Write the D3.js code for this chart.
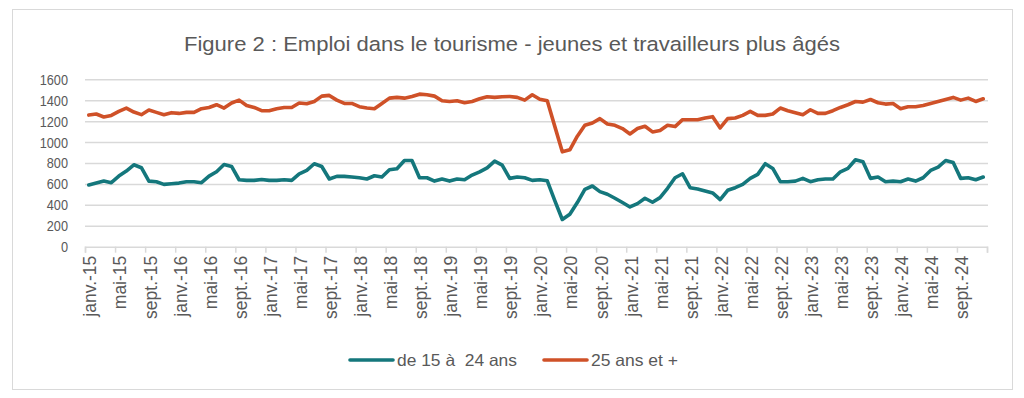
<!DOCTYPE html>
<html><head><meta charset="utf-8">
<script src="https://cdn.jsdelivr.net/npm/d3@7"></script>
<style>body{margin:0;background:#fff}svg{display:block}</style>
</head><body><svg id="c" width="1024" height="398"></svg>
<script>
const years = [2015,2016,2017,2018,2019,2020,2021,2022,2023,2024];
const monthAbbr = ["janv.","févr.","mars","avr.","mai","juin","juil.","août","sept.","oct.","nov.","déc."];
const categories = years.flatMap(yr => monthAbbr.map(m => m + "-" + String(yr).slice(2)));

const youth = [
 590,608,627,612,675,723,783,755,627,621,596,602,
 608,621,621,612,675,716,786,767,640,634,634,643,
 634,634,640,634,697,729,793,767,647,672,672,666,
 659,647,678,666,735,745,824,824,659,659,627,647,
 627,647,640,685,716,754,818,780,653,666,659,634,
 640,630,440,260,311,422,548,580,526,501,463,422,
 380,412,463,425,469,558,659,697,564,552,533,514,
 450,539,564,596,653,691,793,748,621,621,627,653,
 621,640,647,647,716,748,831,812,653,666,621,627,
 621,647,627,659,729,761,824,805,653,659,640,666];
const older = [
 1258,1268,1240,1255,1293,1325,1287,1262,1306,1284,1262,1281,
 1274,1284,1284,1319,1331,1357,1325,1373,1401,1350,1331,1300,
 1300,1319,1331,1331,1373,1366,1388,1439,1446,1401,1369,1369,
 1338,1325,1319,1369,1420,1427,1420,1436,1458,1452,1439,1395,
 1388,1395,1376,1388,1414,1433,1427,1433,1436,1427,1401,1452,
 1410,1395,1150,907,926,1056,1160,1182,1224,1173,1160,1129,
 1078,1129,1151,1097,1110,1160,1148,1214,1214,1214,1230,1243,
 1135,1224,1230,1255,1293,1255,1255,1268,1325,1300,1281,1262,
 1309,1274,1274,1300,1331,1357,1388,1382,1407,1376,1363,1369,
 1319,1338,1338,1350,1369,1388,1407,1427,1401,1420,1388,1414];
const yTicks = [0,200,400,600,800,1000,1200,1400,1600];
const seriesNames = ["de 15 à  24 ans","25 ans et +"];
const colors = ["#14777c","#cf5128"];

(function(){
const svg = d3.select("#c");
const grey = "#595959";
const pL = 85, pR = 987, pT = 79.3, pB = 246.7;

svg.append("rect").attr("x",12.5).attr("y",9.5).attr("width",1000).attr("height",380)
  .attr("fill","#fff").attr("stroke","#d9d9d9").attr("stroke-width",1);

svg.append("text").attr("x",512).attr("y",51).attr("text-anchor","middle")
  .attr("font-family","'Liberation Sans',Arial,sans-serif")
  .attr("font-size",20.5).attr("fill",grey)
  .attr("textLength",656).attr("lengthAdjust","spacingAndGlyphs")
  .text("Figure 2 : Emploi dans le tourisme - jeunes et travailleurs plus âgés");

const x = d3.scaleBand().domain(d3.range(categories.length)).range([pL,pR]).padding(0);
const xl = d3.scaleLinear().domain([0,categories.length]).range([pL,pR]);
const y = d3.scaleLinear().domain([0,1600]).range([pB,pT]);

svg.append("g").attr("transform",`translate(${pL},0)`)
  .call(d3.axisLeft(y).tickValues(yTicks.filter(v=>v>0)).tickSize(-(pR-pL+1)).tickFormat(""))
  .call(g=>g.select(".domain").remove())
  .call(g=>g.selectAll("line").attr("stroke","#d9d9d9").attr("stroke-width",1.5));

const ya = svg.append("g").attr("transform",`translate(${pL},0)`)
  .call(d3.axisLeft(y).tickValues(yTicks).tickSize(0).tickPadding(17).tickFormat(d3.format("d")));
ya.select(".domain").remove();
ya.selectAll("text").attr("font-family","'Liberation Sans',Arial,sans-serif")
  .attr("font-size",15.5).attr("fill",grey)
  .each(function(){ const t=this; const w=t.getComputedTextLength(); t.setAttribute("textLength", (w*0.82).toFixed(1)); t.setAttribute("lengthAdjust","spacingAndGlyphs"); });

const xTickVals = d3.range(0,categories.length+1,4);
const xa = svg.append("g").attr("transform",`translate(0,${pB})`)
  .call(d3.axisBottom(xl).tickValues(xTickVals).tickSize(6).tickFormat(""));
xa.select(".domain").attr("stroke","#d9d9d9").attr("stroke-width",1.5);
xa.selectAll(".tick line").attr("stroke","#d9d9d9").attr("stroke-width",1.5);

svg.append("g").selectAll("text").data(xTickVals.filter(i=>i<categories.length)).join("text")
  .attr("transform",i=>`translate(${x(i)+x.bandwidth()/2+1.5},${pB+9}) rotate(-90)`)
  .attr("dy","0.35em").attr("text-anchor","end")
  .attr("font-family","'Liberation Sans',Arial,sans-serif").attr("font-size",17.5).attr("fill",grey)
  .text(i=>categories[i]);

const line = d3.line().x((d,i)=>x(i)+x.bandwidth()/2).y(d=>y(d));
[youth,older].forEach((s,k)=>{
  svg.append("path").datum(s).attr("d",line).attr("fill","none")
    .attr("stroke",colors[k]).attr("stroke-width",3.6)
    .attr("stroke-linejoin","round").attr("stroke-linecap","round");
});

const lg = svg.append("g");
const legX = [350,544];
const legW = [120,87];
seriesNames.forEach((n,k)=>{
  lg.append("line").attr("x1",legX[k]).attr("x2",legX[k]+43).attr("y1",360).attr("y2",360)
    .attr("stroke",colors[k]).attr("stroke-width",3.6).attr("stroke-linecap","round");
  lg.append("text").attr("x",legX[k]+47).attr("y",360).attr("dy","0.36em")
    .attr("font-family","'Liberation Sans',Arial,sans-serif").attr("font-size",16.5).attr("fill",grey)
    .attr("textLength",legW[k]).attr("lengthAdjust","spacingAndGlyphs")
    .style("white-space","pre").text(n);
});
})();
</script></body></html>
